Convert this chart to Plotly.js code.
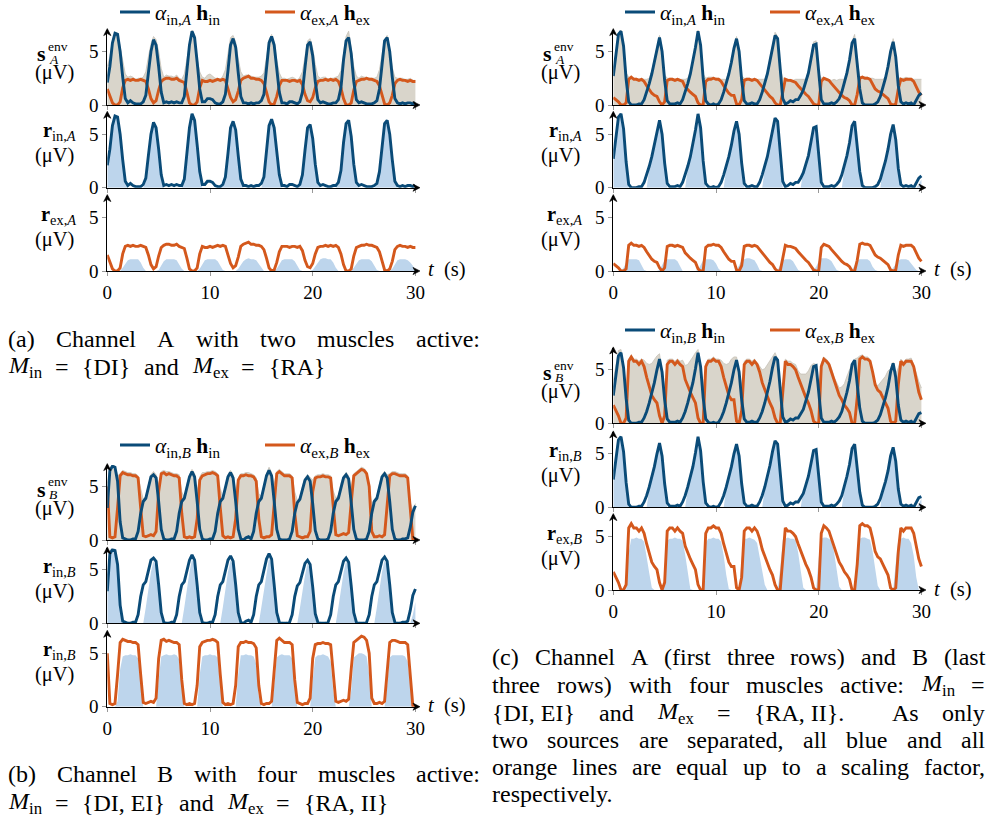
<!DOCTYPE html>
<html>
<head>
<meta charset="utf-8">
<script src="https://cdn.plot.ly/plotly-3.0.1.min.js"></script>
<style>html,body{margin:0;padding:0;background:#fff;}#chart{width:990px;height:821px;}</style>
</head>
<body>
<div id="chart"></div>
<script>
// ---------------- DATA ----------------
const t = [
0,0.25,0.5,0.75, 1,1.25,1.5,1.75, 2,2.25,2.5,2.75, 3,3.25,3.5,3.75, 4,4.25,4.5,4.75,
5,5.25,5.5,5.75, 6,6.25,6.5,6.75, 7,7.25,7.5,7.75, 8,8.25,8.5,8.75, 9,9.25,9.5,9.75,
10,10.25,10.5,10.75, 11,11.25,11.5,11.75, 12,12.25,12.5,12.75, 13,13.25,13.5,13.75, 14,14.25,14.5,14.75,
15,15.25,15.5,15.75, 16,16.25,16.5,16.75, 17,17.25,17.5,17.75, 18,18.25,18.5,18.75, 19,19.25,19.5,19.75,
20,20.25,20.5,20.75, 21,21.25,21.5,21.75, 22,22.25,22.5,22.75, 23,23.25,23.5,23.75, 24,24.25,24.5,24.75,
25,25.25,25.5,25.75, 26,26.25,26.5,26.75, 27,27.25,27.5,27.75, 28,28.25,28.5,28.75, 29,29.25,29.5,29.75,
30];
const xTicks = [0, 10, 20, 30];
const yTicks = [0, 5];

// (a) channel A, two muscles
const aIn = [
2.1,3.6,5.8,6.7, 6.6,5.0,2.6,0.6, 0.2,0.4,0.2,0.1, 0.1,0.1,0.3,0.9, 3.0,5.0,6.1,5.6,
3.6,1.2,0.2,0.3, 0.2,0.3,0.2,0.3, 0.2,0.2,0.8,3.0, 5.6,6.9,6.3,4.0, 1.5,0.3,0.3,0.6,
0.6,0.5,0.2,0.1, 0.1,0.3,1.0,3.2, 5.6,6.2,5.4,3.0, 0.8,0.2,0.2,0.1, 0.2,0.1,0.2,0.2,
0.4,1.0,3.2,5.8, 6.4,5.6,3.4,1.2, 0.2,0.2,0.1,0.3, 0.3,0.2,0.1,0.3, 1.2,3.5,5.6,5.9,
4.6,2.2,0.5,0.2, 0.3,0.2,0.1,0.1, 0.2,0.2,0.5,1.6, 4.2,6.0,6.3,4.8, 2.2,0.5,0.2,0.3,
0.2,0.1,0.1,0.1, 0.2,0.4,1.5,3.8, 6.0,6.3,5.0,2.6, 0.6,0.2,0.1,0.2, 0.1,0.2,0.2,0.1,
0.2];
const aEx = [
1.5,0.9,0.2,0.0, 0.0,0.3,1.6,2.3, 2.4,2.3,2.4,2.3, 2.3,2.4,2.3,2.2, 1.5,0.6,0.2,0.4,
1.4,2.2,2.4,2.5, 2.5,2.4,2.4,2.5, 2.3,2.2,2.1,1.2, 0.2,0.0,0.0,0.3, 1.6,2.3,2.2,2.2,
2.3,2.2,2.3,2.4, 2.3,2.4,2.3,1.6, 0.7,0.3,0.5,1.3, 2.3,2.5,2.6,2.7, 2.5,2.5,2.4,2.4,
2.3,2.0,1.2,0.3, 0.0,0.1,0.8,1.8, 2.3,2.3,2.3,2.2, 2.3,2.3,2.2,2.3, 1.9,1.0,0.4,0.3,
0.7,1.6,2.2,2.3, 2.3,2.4,2.3,2.4, 2.3,2.4,2.2,1.6, 0.6,0.0,0.0,0.2, 1.4,2.2,2.3,2.4,
2.4,2.5,2.4,2.4, 2.3,2.2,1.8,0.9, 0.1,0.0,0.2,0.9, 2.0,2.3,2.4,2.3, 2.3,2.2,2.3,2.2,
2.2];
const aEnv = [
3.6,4.5,6.0,6.8, 6.7,5.4,4.3,2.9, 2.6,2.7,2.6,2.4, 2.5,2.5,2.6,3.1, 4.5,5.7,6.4,6.1,
5.0,3.4,2.6,2.8, 2.7,2.7,2.6,2.8, 2.5,2.4,2.9,4.2, 5.8,7.0,6.5,4.3, 3.1,2.6,2.5,2.8,
2.9,2.7,2.5,2.5, 2.4,2.7,3.3,4.8, 6.3,6.5,5.9,4.3, 3.1,2.7,2.8,2.8, 2.7,2.6,2.6,2.6,
2.7,3.0,4.4,6.1, 6.6,5.8,4.2,3.0, 2.5,2.5,2.4,2.5, 2.6,2.5,2.3,2.6, 3.1,4.5,6.0,6.2,
5.3,3.8,2.7,2.5, 2.6,2.6,2.4,2.5, 2.5,2.6,2.7,3.2, 4.8,6.4,6.9,5.1, 3.6,2.7,2.5,2.7,
2.6,2.6,2.5,2.5, 2.5,2.6,3.3,4.7, 6.1,6.5,5.2,3.5, 2.6,2.5,2.5,2.5, 2.4,2.4,2.5,2.3,
2.3];
const aGtIn = [
2.0,3.5,5.7,6.6, 6.5,4.8,2.3,0.4, 0,0,0,0, 0,0,0,0.6, 2.8,4.9,6.0,5.4,
3.3,0.9,0,0, 0,0,0,0, 0,0,0.6,2.8, 5.5,6.8,6.1,3.7, 1.2,0,0,0,
0,0,0,0, 0,0.1,0.8,3.0, 5.4,6.0,5.2,2.7, 0.5,0,0,0, 0,0,0,0,
0,0.8,3.0,5.6, 6.2,5.4,3.1,0.9, 0,0,0,0, 0,0,0,0.1, 1.0,3.3,5.4,5.7,
4.4,1.9,0.3,0, 0,0,0,0, 0,0,0.3,1.4, 4.0,5.8,6.1,4.6, 2.0,0.3,0,0,
0,0,0,0, 0,0.2,1.3,3.6, 5.8,6.1,4.8,2.4, 0.4,0,0,0, 0,0,0,0,
0];
const aGtEx = [
0,0,0,0, 0,0,0.3,0.7, 1.0,1.1,1.1,1.1, 1.1,0.8,0.3,0, 0,0,0,0,
0.1,0.5,0.9,1.1, 1.1,1.1,1.1,1.0, 0.6,0.2,0,0, 0,0,0,0, 0.2,0.6,1.0,1.1,
1.1,1.1,1.1,0.9, 0.5,0.1,0,0, 0,0,0,0.2, 0.6,0.9,1.1,1.2, 1.1,1.1,1.0,0.7,
0.3,0,0,0, 0,0,0.2,0.6, 1.0,1.1,1.1,1.1, 1.1,0.9,0.5,0.1, 0,0,0,0,
0.1,0.4,0.8,1.1, 1.2,1.2,1.1,1.1, 0.8,0.3,0,0, 0,0,0,0, 0.3,0.7,1.0,1.1,
1.1,1.1,1.1,0.9, 0.5,0.1,0,0, 0,0,0,0.2, 0.6,1.0,1.1,1.1, 1.1,1.0,0.8,0.5,
0.1];

// (b) channel B, four muscles
const bIn = [
3.0,6.5,6.9,6.8, 5.5,1.7,0.2,0.1, 0.0,0.0,0.1,0.1, 0.8,2.5,3.6,3.9, 5.0,5.9,6.1,5.8,
3.6,1.0,0.1,0.0, 0.0,0.1,0.1,0.8, 2.5,3.6,3.9,5.0, 5.9,6.4,5.9,3.6, 1.0,0.1,0.0,0.0,
0.1,0.1,0.8,2.5, 3.6,3.9,5.0,5.9, 6.3,5.8,3.6,1.0, 0.1,0.0,0.2,0.3, 0.1,0.8,2.5,3.6,
3.9,5.0,6.0,6.5, 6.0,3.6,1.0,0.1, 0.0,0.0,0.0,0.1, 0.8,2.5,3.5,3.8, 4.8,5.6,5.9,5.5,
3.4,0.9,0.1,0.0, 0.0,0.0,0.1,0.8, 2.5,3.6,3.9,5.0, 5.8,6.1,5.7,3.5, 1.0,0.1,0.0,0.0,
0.0,0.1,0.8,2.5, 3.6,3.9,5.0,5.9, 6.2,5.8,3.6,1.0, 0.1,0.0,0.0,0.1, 0.1,0.2,1.2,2.6,
3.2];
const bEx = [
5.0,0.3,0.2,0.3, 3.0,6.0,6.3,6.2, 6.1,6.1,6.0,6.0, 5.8,3.0,0.4,0.3, 0.4,0.5,0.4,0.8,
4.5,6.2,6.3,6.1, 6.2,6.1,6.0,6.0, 5.8,2.5,0.3,0.2, 0.3,0.2,0.3,2.0, 5.6,6.0,6.1,6.2,
6.2,6.3,6.2,6.0, 3.0,0.4,0.2,0.3, 0.2,0.3,2.0,5.6, 6.0,6.0,6.1,6.0, 6.0,5.9,5.5,2.0,
0.3,0.2,0.3,0.3, 0.5,3.5,6.2,6.4, 6.2,6.0,6.0,6.0, 5.8,2.5,0.4,0.3, 0.2,0.3,0.3,0.8,
4.5,5.8,5.9,5.9, 6.0,5.9,5.9,5.8, 3.0,0.5,0.4,0.5, 0.6,0.5,0.7,3.5, 6.0,6.2,6.4,6.6,
6.5,6.2,5.0,0.8, 0.3,0.3,0.4,0.3, 0.5,3.5,6.0,6.2, 6.2,6.1,6.0,6.0, 6.0,5.8,3.0,0.1,
0.0];
const bEnv = [
5.3,6.7,7.0,6.9, 6.0,6.2,6.5,6.4, 6.3,6.3,6.2,6.2, 6.0,4.8,3.8,4.1, 5.2,6.1,6.4,6.1,
5.2,6.4,6.5,6.4, 6.4,6.3,6.2,6.2, 6.1,4.5,4.0,5.2, 6.1,6.6,6.2,4.6, 5.9,6.3,6.3,6.4,
6.4,6.5,6.4,6.2, 4.8,4.0,5.1,6.1, 6.5,6.1,4.5,5.8, 6.2,6.2,6.3,6.3, 6.2,6.1,5.8,4.3,
4.1,5.2,6.2,6.8, 6.3,5.2,6.4,6.6, 6.4,6.2,6.2,6.2, 6.0,4.5,3.7,4.0, 5.0,5.8,6.1,5.8,
5.6,6.0,6.1,6.1, 6.2,6.1,6.1,6.0, 4.6,3.9,4.2,5.3, 6.0,6.3,6.0,4.9, 6.2,6.4,6.6,6.8,
6.7,6.4,5.0,3.4, 3.8,4.1,5.2,6.1, 6.4,6.1,6.2,6.4, 6.4,6.3,6.2,6.2, 6.2,6.0,3.5,2.8,
3.4];
const bGtIn = [
2.8,6.3,6.7,6.5, 5.2,1.5,0,0, 0,0,0,0, 0,0,0,1.5, 3.2,4.8,5.8,5.2,
3.0,0.5,0,0, 0,0,0,0, 0,0,1.5,3.2, 4.8,6.0,5.4,3.0, 0.5,0,0,0,
0,0,0,0, 0,1.5,3.2,4.8, 5.9,5.3,3.0,0.5, 0,0,0,0, 0,0,0,0,
1.5,3.2,4.9,6.1, 5.5,3.0,0.5,0, 0,0,0,0, 0,0,0,1.4, 3.0,4.5,5.6,5.0,
2.8,0.4,0,0, 0,0,0,0, 0,0,1.5,3.2, 4.7,5.8,5.2,3.0, 0.5,0,0,0,
0,0,0,0, 0,1.5,3.2,4.8, 5.9,5.3,3.0,0.5, 0,0,0,0, 0,0,0,0.8,
2.0];
const bGtEx = [
0,0,0,0, 0.5,3.5,4.7,4.8, 4.8,4.9,4.8,4.8, 4.5,2.0,0,0, 0,0,0,0,
2.5,4.7,4.8,4.9, 4.8,4.8,4.9,4.8, 4.4,1.8,0,0, 0,0,0,0, 3.0,4.7,4.8,4.8,
4.9,4.8,4.8,4.6, 2.0,0,0,0, 0,0,0,3.0, 4.8,4.8,4.9,4.8, 4.8,4.7,4.0,1.0,
0,0,0,0, 0,2.0,4.6,4.8, 4.9,4.8,4.8,4.8, 4.5,1.8,0,0, 0,0,0,0,
2.5,4.6,4.8,4.8, 4.9,4.8,4.7,4.2, 1.5,0,0,0, 0,0,0,1.5, 4.6,4.8,5.0,5.0,
4.9,4.7,3.0,0, 0,0,0,0, 0,2.0,4.6,4.8, 4.8,4.8,4.8,4.8, 4.7,4.2,2.0,0,
0];

// (c) channels A and B, four muscles
const cInA = [
2.7,4.6,6.6,6.9, 5.5,2.4,0.3,0.0, 0.0,0.0,0.1,0.1, 0.5,1.2,2.0,2.9, 4.0,5.3,6.3,5.0,
2.3,0.4,0.1,0.1, 0.1,0.2,0.1,0.5, 1.2,2.0,2.9,4.0, 5.4,6.9,5.6,2.5, 0.4,0.1,0.0,0.1,
0.0,0.1,0.5,1.2, 2.0,2.9,4.0,5.3, 6.2,5.0,2.3,0.4, 0.1,0.1,0.2,0.1, 0.1,0.5,1.2,2.0,
2.9,4.1,5.5,6.5, 6.2,3.2,0.6,0.1, 0.2,0.4,0.3,0.5, 0.5,0.9,1.4,2.2, 3.0,4.3,5.6,5.7,
2.8,0.5,0.1,0.1, 0.1,0.2,0.1,0.3, 0.6,1.2,2.0,3.0, 4.2,5.8,6.2,4.0, 1.5,0.2,0.0,0.0,
0.0,0.0,0.1,0.3, 0.8,1.6,2.5,3.6, 5.0,5.9,4.5,1.8, 0.3,0.1,0.2,0.1, 0.2,0.0,0.4,0.9,
1.1];
const cExA = [
0.7,0.5,0.3,0.0, 0.0,0.2,2.4,2.6, 2.4,2.4,2.3,2.4, 2.2,1.8,1.4,1.1, 0.9,0.8,0.3,0.0,
0.3,2.3,2.4,2.4, 2.3,2.4,2.3,2.2, 1.7,1.4,1.2,1.0, 0.8,0.2,0.0,0.0, 2.2,2.4,2.4,2.5,
2.4,2.4,2.2,1.8, 1.4,1.1,0.9,0.9, 0.1,0.0,0.5,2.3, 2.4,2.4,2.3,2.4, 2.3,2.0,1.6,1.3,
1.1,0.8,0.6,0.2, 0.0,0.0,1.2,2.4, 2.3,2.3,2.2,2.1, 1.8,1.5,1.3,1.0, 0.8,0.5,0.1,0.0,
0.0,2.2,2.5,2.4, 2.3,2.0,1.7,1.4, 1.1,0.9,0.7,0.6, 0.4,0.0,0.0,1.0, 2.5,2.6,2.5,2.5,
2.4,2.0,1.5,1.3, 1.2,1.0,0.8,0.6, 0.1,0.0,0.1,1.5, 2.4,2.3,2.4,2.4, 2.4,2.2,1.7,1.2,
0.9];
const cEnvA = [
3.0,4.8,6.7,7.0, 5.8,3.0,2.6,2.6, 2.5,2.5,2.4,2.5, 2.4,2.4,2.5,3.2, 4.2,5.5,6.5,5.2,
2.8,2.5,2.5,2.5, 2.4,2.5,2.4,2.4, 2.4,2.5,3.1,4.2, 5.6,7.0,5.8,2.9, 2.5,2.6,2.6,2.6,
2.5,2.5,2.4,2.4, 2.4,3.1,4.2,5.5, 6.4,5.2,2.7,2.5, 2.5,2.5,2.4,2.5, 2.4,2.4,2.4,2.4,
3.1,4.3,5.7,6.8, 6.4,3.5,2.5,2.5, 2.4,2.4,2.3,2.4, 2.4,2.4,2.4,2.4, 3.2,4.5,5.9,6.0,
3.0,2.5,2.6,2.5, 2.4,2.3,2.4,2.3, 2.4,2.4,2.4,3.2, 4.4,6.0,6.6,4.2, 2.6,2.7,2.6,2.6,
2.5,2.5,2.4,2.4, 2.4,2.4,2.6,3.8, 5.2,6.2,4.7,2.5, 2.5,2.5,2.6,2.5, 2.5,2.4,2.4,2.4,
2.4];
const cGtInA = [
2.5,4.4,6.4,6.7, 5.3,2.2,0,0, 0,0,0,0, 0,0,1.8,2.8, 3.9,5.1,6.1,4.8,
2.0,0,0,0, 0,0,0,0, 0,1.8,2.8,3.9, 5.2,6.6,5.3,2.2, 0,0,0,0,
0,0,0,0, 1.8,2.8,3.9,5.1, 6.0,4.8,2.0,0, 0,0,0,0, 0,0,0,1.8,
2.8,3.9,5.2,6.3, 5.9,2.8,0,0, 0,0,0,0, 0,0,1.6,2.2, 3.0,4.2,5.5,5.4,
2.5,0,0,0, 0,0,0,0, 0,0,1.8,2.8, 4.0,5.6,6.0,3.8, 1.2,0,0,0,
0,0,0,0, 0,1.8,2.6,3.5, 4.8,5.7,4.3,1.6, 0,0,0,0, 0,0,0,0.3,
0.8];
const cGtExA = [
0,0,0,0, 0.3,0.8,1.1,1.1, 1.1,1.1,1.0,0.6, 0.1,0,0,0, 0,0,0.1,0.5,
1.0,1.1,1.1,1.1, 1.1,0.9,0.4,0, 0,0,0,0, 0,0.1,0.5,1.0, 1.1,1.1,1.1,1.0,
0.7,0.2,0,0, 0,0,0,0, 0.1,0.5,1.0,1.1, 1.2,1.2,1.1,1.0, 0.6,0.1,0,0,
0,0,0,0, 0.1,0.6,1.0,1.1, 1.1,1.1,0.9,0.5, 0.1,0,0,0, 0,0,0.1,0.4,
0.9,1.2,1.2,1.2, 1.1,0.9,0.5,0.1, 0,0,0,0, 0,0.1,0.5,1.0, 1.1,1.1,1.1,1.1,
0.9,0.4,0.1,0, 0,0,0,0, 0,0.3,0.7,1.0, 1.1,1.1,1.1,1.0, 0.7,0.3,0.1,0,
0];
const cInB = [
2.6,4.4,6.3,6.6, 5.2,2.3,0.3,0.0, 0.0,0.0,0.1,0.1, 0.5,1.1,1.9,2.8, 3.8,5.0,6.0,4.8,
2.2,0.4,0.1,0.1, 0.1,0.2,0.1,0.5, 1.1,1.9,2.8,3.8, 5.1,6.6,5.3,2.4, 0.4,0.1,0.0,0.1,
0.0,0.1,0.5,1.1, 1.9,2.8,3.8,5.0, 5.9,4.8,2.2,0.4, 0.1,0.1,0.2,0.1, 0.1,0.5,1.1,1.9,
2.8,3.9,5.2,6.2, 5.9,3.0,0.6,0.1, 0.2,0.4,0.3,0.5, 0.5,0.9,1.3,2.1, 2.9,4.1,5.3,5.4,
2.7,0.5,0.1,0.1, 0.1,0.2,0.1,0.3, 0.6,1.1,1.9,2.9, 4.0,5.5,5.9,3.8, 1.4,0.2,0.0,0.0,
0.0,0.0,0.1,0.3, 0.8,1.5,2.4,3.4, 4.8,5.6,4.3,1.7, 0.3,0.1,0.2,0.1, 0.2,0.0,0.4,0.9,
1.0];
const cExB = [
1.7,1.2,0.7,0.0, 0.0,0.5,5.8,6.2, 5.8,5.8,5.5,5.8, 5.3,4.3,3.4,2.6, 2.2,1.9,0.7,0.0,
0.7,5.5,5.8,5.8, 5.5,5.8,5.5,5.3, 4.1,3.4,2.9,2.4, 1.9,0.5,0.0,0.0, 5.3,5.8,5.8,6.0,
5.8,5.8,5.3,4.3, 3.4,2.6,2.2,2.2, 0.2,0.0,1.2,5.5, 5.8,5.8,5.5,5.8, 5.5,4.8,3.8,3.1,
2.6,1.9,1.4,0.5, 0.0,0.0,2.9,5.8, 5.5,5.5,5.3,5.0, 4.3,3.6,3.1,2.4, 1.9,1.2,0.2,0.0,
0.0,5.3,6.0,5.8, 5.5,4.8,4.1,3.4, 2.6,2.2,1.7,1.4, 1.0,0.0,0.0,2.4, 6.0,6.2,6.0,6.0,
5.8,4.8,3.6,3.1, 2.9,2.4,1.9,1.4, 0.2,0.0,0.2,3.6, 5.8,5.5,5.8,5.8, 5.8,5.3,4.1,2.9,
2.2];
const cEnvB = [
4.0,5.4,6.8,6.9, 5.4,2.9,6.0,6.4, 6.0,6.0,5.8,6.0, 5.9,5.6,5.5,5.6, 6.0,6.3,6.5,4.9,
3.0,5.9,6.0,6.0, 5.8,6.0,5.8,5.9, 5.4,5.5,5.8,6.2, 6.6,6.9,5.4,2.6, 5.6,6.0,6.0,6.2,
6.0,6.0,5.9,5.6, 5.5,5.6,6.0,6.2, 6.2,4.9,3.5,5.8, 6.0,6.0,5.8,6.0, 5.7,5.4,5.0,5.1,
5.5,5.9,6.3,6.6, 6.0,3.2,3.5,6.0, 5.8,5.8,5.6,5.5, 4.9,4.6,4.6,4.6, 4.9,5.4,5.6,5.5,
2.9,5.6,6.2,6.0, 5.7,5.1,4.3,3.8, 3.3,3.4,3.7,4.4, 5.1,5.6,6.0,6.1, 6.3,6.4,6.2,6.2,
6.0,5.0,3.8,3.5, 3.8,4.0,4.4,4.9, 5.1,5.7,4.6,5.2, 6.0,5.7,6.0,6.0, 6.1,5.5,4.6,3.9,
3.3];
const cGtInB = [
2.4,4.2,6.1,6.4, 5.0,2.1,0,0, 0,0,0,0, 0,0,1.7,2.7, 3.7,4.8,5.8,4.6,
1.9,0,0,0, 0,0,0,0, 0,1.7,2.7,3.7, 4.9,6.3,5.0,2.1, 0,0,0,0,
0,0,0,0, 1.7,2.7,3.7,4.8, 5.7,4.6,1.9,0, 0,0,0,0, 0,0,0,1.7,
2.7,3.7,4.9,6.0, 5.6,2.7,0,0, 0,0,0,0, 0,0,1.5,2.1, 2.9,4.0,5.2,5.1,
2.4,0,0,0, 0,0,0,0, 0,0,1.7,2.7, 3.8,5.3,5.7,3.6, 1.1,0,0,0,
0,0,0,0, 0,1.7,2.5,3.3, 4.6,5.4,4.1,1.5, 0,0,0,0, 0,0,0,0.3,
0.8];
const cGtExB = [
0,0,0,0, 0,0,3.5,4.8, 4.8,4.9,4.8,4.8, 4.5,3.2,1.6,0.2, 0,0,0,0,
0.5,4.6,4.8,4.8, 4.9,4.8,4.8,4.6, 3.3,1.5,0.1,0, 0,0,0,0, 4.4,4.8,4.8,4.9,
4.8,4.8,4.5,3.2, 1.4,0.1,0,0, 0,0,3.0,4.8, 4.8,4.9,4.8,4.7, 4.4,3.2,1.8,0.5,
0,0,0,0, 0,2.0,4.7,4.8, 4.9,4.8,4.8,4.7, 3.5,1.8,0.2,0, 0,0,0,0,
3.0,4.8,4.9,4.9, 4.8,4.6,3.5,2.0, 0.3,0,0,0, 0,0,0,3.0, 4.8,4.9,4.9,4.8,
4.7,3.6,1.9,0.4, 0,0,0,0, 0,0,2.5,4.7, 4.8,4.9,4.8,4.8, 4.4,3.2,1.2,0,
0];

// ---------------- FONT ----------------
const mctx = document.createElement('canvas').getContext('2d');
function hasFont(name){
  const s = 'abcdefghijklmnopqrstuvwxyzABCDEFGHIJ0123456789';
  let diff = false;
  ['monospace','sans-serif'].forEach(g => {
    mctx.font = '40px ' + g; const a = mctx.measureText(s).width;
    mctx.font = '40px "' + name + '", ' + g; const b = mctx.measureText(s).width;
    if (Math.abs(a - b) > 0.5) diff = true;
  });
  return diff;
}
let FONT, S;
if (hasFont('Liberation Serif')) { FONT = '"Liberation Serif", serif'; S = 1.0; }
else if (hasFont('DejaVu Serif')) { FONT = '"DejaVu Serif", serif'; S = 0.86; }
else { FONT = 'serif'; S = 0.95; }
function fs(n){ return Math.round(n * S * 10) / 10; }

// ---------------- STYLE / LAYOUT ----------------
const W = 990, H = 821;
const PXS = 10.27, PXV = 10.7, XMAX = 30.3, YMAX = 7;
const BLUE = '#0a4b78', ORANGE = '#d4581c', GRAYF = '#d9d5cb', GRAYL = '#c6c2b8', LBLUE = '#bdd5ec';

const origins = [
  [107.3,105],[107.3,187.7],[107.3,271],
  [107.3,540],[107.3,623.3],[107.3,706.7],
  [613.3,105],[613.3,187.7],[613.3,271],
  [613.3,423.3],[613.3,507.3],[613.3,590]
];
const bottomRows = [3,6,9,12];

function xid(k){ return k===1 ? 'x' : 'x'+k; }
function yid(k){ return k===1 ? 'y' : 'y'+k; }
function px(x){ return x/W; }
function py(y){ return 1 - y/H; }

const traces = [];
function fillTr(k, y, color, edge){
  traces.push({type:'scatter', mode:'lines', x:t, y:y, xaxis:xid(k), yaxis:yid(k),
    fill:'tozeroy', fillcolor:color, line:{width: edge?0.8:0, color: edge||color},
    hoverinfo:'skip', showlegend:false});
}
function lineTr(k, y, color, name, legend, rank){
  const tr = {type:'scatter', mode:'lines', x:t, y:y, xaxis:xid(k), yaxis:yid(k),
    line:{width:2.9, color:color}, hoverinfo:'skip', showlegend:false};
  if (name){ tr.name = name; tr.showlegend = true; tr.legend = legend; tr.legendrank = rank; }
  traces.push(tr);
}
function lg(dir, ch){
  return '<i>α</i><sub>'+dir+',<i>'+ch+'</i></sub> <b>h</b><sub>'+dir+'</sub>';
}

fillTr(1, aEnv, GRAYF, GRAYL); lineTr(1, aEx, ORANGE, lg('ex','A'), 'legend', 2); lineTr(1, aIn, BLUE, lg('in','A'), 'legend', 1);
fillTr(2, aGtIn, LBLUE); lineTr(2, aIn, BLUE);
fillTr(3, aGtEx, LBLUE); lineTr(3, aEx, ORANGE);
fillTr(4, bEnv, GRAYF, GRAYL); lineTr(4, bEx, ORANGE, lg('ex','B'), 'legend2', 2); lineTr(4, bIn, BLUE, lg('in','B'), 'legend2', 1);
fillTr(5, bGtIn, LBLUE); lineTr(5, bIn, BLUE);
fillTr(6, bGtEx, LBLUE); lineTr(6, bEx, ORANGE);
fillTr(7, cEnvA, GRAYF, GRAYL); lineTr(7, cExA, ORANGE, lg('ex','A'), 'legend3', 2); lineTr(7, cInA, BLUE, lg('in','A'), 'legend3', 1);
fillTr(8, cGtInA, LBLUE); lineTr(8, cInA, BLUE);
fillTr(9, cGtExA, LBLUE); lineTr(9, cExA, ORANGE);
fillTr(10, cEnvB, GRAYF, GRAYL); lineTr(10, cExB, ORANGE, lg('ex','B'), 'legend4', 2); lineTr(10, cInB, BLUE, lg('in','B'), 'legend4', 1);
fillTr(11, cGtInB, LBLUE); lineTr(11, cInB, BLUE);
fillTr(12, cGtExB, LBLUE); lineTr(12, cExB, ORANGE);

const layout = {
  width: W, height: H, autosize: false,
  margin: {l:0, r:0, t:0, b:0, pad:0, autoexpand:false},
  paper_bgcolor: '#fff', plot_bgcolor: 'rgba(0,0,0,0)',
  font: {family: FONT, color: '#000', size: fs(18)},
  showlegend: true,
  annotations: [], shapes: []
};
const legendBase = {orientation:'h', xanchor:'center', yanchor:'middle', bgcolor:'rgba(0,0,0,0)',
  borderwidth:0, font:{family:FONT, size:fs(21.5), color:'#000'}, itemwidth:30, traceorder:'normal',
  entrywidth:100, entrywidthmode:'pixels'};
layout.legend  = Object.assign({}, legendBase, {x: px(260), y: py(12)});
layout.legend2 = Object.assign({}, legendBase, {x: px(260), y: py(445)});
layout.legend3 = Object.assign({}, legendBase, {x: px(765), y: py(12)});
layout.legend4 = Object.assign({}, legendBase, {x: px(765), y: py(330)});

function P(x, y){ return px(x).toFixed(5) + ',' + py(y).toFixed(5); }
origins.forEach(([x0, y0], i) => {
  const k = i + 1;
  const xk = k===1 ? 'xaxis' : 'xaxis'+k;
  const yk = k===1 ? 'yaxis' : 'yaxis'+k;
  const xEnd = x0 + XMAX*PXS, yTop = y0 - YMAX*PXV;
  layout[xk] = {
    domain: [px(x0), px(xEnd)], range: [0, XMAX], anchor: yid(k),
    showline: true, linecolor: '#000', linewidth: 1, zeroline: false, showgrid: false,
    ticks: 'outside', ticklen: 4, tickwidth: 1, tickcolor: '#999',
    tickvals: xTicks, ticktext: xTicks.map(String),
    showticklabels: bottomRows.includes(k), tickfont: {family: FONT, size: fs(19), color:'#000'},
    fixedrange: true, automargin: false
  };
  layout[yk] = {
    domain: [py(y0), py(yTop)], range: [0, YMAX], anchor: xid(k),
    showline: true, linecolor: '#000', linewidth: 1, zeroline: false, showgrid: false,
    ticks: 'outside', ticklen: 4, tickwidth: 1, tickcolor: '#999',
    tickvals: yTicks, ticktext: yTicks.map(String),
    tickfont: {family: FONT, size: fs(19), color:'#000'}, fixedrange: true, automargin: false
  };
  layout.shapes.push({type:'path', xref:'paper', yref:'paper', layer:'above',
    path:'M'+P(x0, yTop-1.5)+' L'+P(x0-3.6, yTop+5.5)+' L'+P(x0, yTop+3.5)+' L'+P(x0+3.6, yTop+5.5)+' Z',
    fillcolor:'#000', line:{width:0.6, color:'#000'}});
  layout.shapes.push({type:'path', xref:'paper', yref:'paper', layer:'above',
    path:'M'+P(xEnd+1.5, y0)+' L'+P(xEnd-5.5, y0-3.6)+' L'+P(xEnd-3.5, y0)+' L'+P(xEnd-5.5, y0+3.6)+' Z',
    fillcolor:'#000', line:{width:0.6, color:'#000'}});
});

// row labels
const rowLabels = [
  ['s','env','A'],['r','in','A'],['r','ex','A'],
  ['s','env','B'],['r','in','B'],['r','in','B'],
  ['s','env','A'],['r','in','A'],['r','ex','A'],
  ['s','env','B'],['r','in','B'],['r','ex','B']
];
function ann(o){ layout.annotations.push(Object.assign({xref:'paper', yref:'paper', showarrow:false,
  borderpad:0, borderwidth:0, font:{family:FONT, size:fs(21), color:'#000'}}, o)); }
rowLabels.forEach(([v, sub, ch], i) => {
  const [x0, y0] = origins[i];
  if (v === 's'){
    ann({text:'<b>s</b>', x:px(x0-66), y:py(y0-51), xanchor:'center', yanchor:'middle', font:{family:FONT,size:fs(22),color:'#000'}});
    ann({text:'env', x:px(x0-59.5), y:py(y0-58), xanchor:'left', yanchor:'middle', font:{family:FONT,size:fs(13.5),color:'#000'}});
    ann({text:'<i>'+ch+'</i>', x:px(x0-58.5), y:py(y0-46), xanchor:'left', yanchor:'middle', font:{family:FONT,size:fs(13.5),color:'#000'}});
    ann({text:'(μV)', x:px(x0-53), y:py(y0-43.5), xanchor:'center', yanchor:'top', font:{family:FONT,size:fs(20.5),color:'#000'}});
  } else {
    ann({text:'<b>r</b><sub>'+sub+',<i>'+ch+'</i></sub>', x:px(x0-31), y:py(y0-43.5), xanchor:'right', yanchor:'bottom', font:{family:FONT,size:fs(20.5),color:'#000'}});
    ann({text:'(μV)', x:px(x0-53), y:py(y0-43.5), xanchor:'center', yanchor:'top', font:{family:FONT,size:fs(20.5),color:'#000'}});
  }
});
[[428,270],[428,705],[934,270],[934,589]].forEach(([x,y]) =>
  ann({text:'<i>t</i>  (s)', x:px(x), y:py(y), xanchor:'left', yanchor:'middle', font:{family:FONT,size:fs(20.5),color:'#000'}}));

// captions (justified text, widths measured with the same font)
function measure(html, size){
  let w = 0, b = 0, it = 0, s = 0;
  html.split(/(<\/?[a-z]+>)/).forEach(p => {
    if (!p) return;
    const m = p.match(/^<(\/?)([a-z]+)>$/);
    if (m){ const d = m[1] ? -1 : 1;
      if (m[2]==='b') b += d; else if (m[2]==='i') it += d; else s += d; return; }
    const f = size * Math.pow(0.7, s);
    mctx.font = (it>0?'italic ':'') + (b>0?'bold ':'') + f + 'px ' + FONT;
    w += mctx.measureText(p).width;
  });
  return w;
}
const Min = '<i>M</i><sub>in</sub>', Mex = '<i>M</i><sub>ex</sub>';
const captionLines = [
  [['(a)','Channel','A','with','two','muscles','active:'], 8, 480, 339],
  [[Min,'=','{DI}','and',Mex,'=','{RA}'], 8, 325, 367],
  [['(b)','Channel','B','with','four','muscles','active:'], 8, 480, 774],
  [[Min,'=','{DI, EI}','and',Mex,'=','{RA, II}'], 8, 388, 803],
  [['(c)','Channel','A','(first','three','rows)','and','B','(last'], 492, 985, 657],
  [['three','rows)','with','four','muscles','active:',Min,'='], 492, 985, 685],
  [['{DI, EI}','and',Mex,'=','{RA, II}.','','As','only'], 492, 985, 713],
  [['two','sources','are','separated,','all','blue','and','all'], 492, 985, 740],
  [['orange','lines','are','equal','up','to','a','scaling','factor,'], 492, 985, 767],
  [['respectively.'], 492, 985, 794]
];
let CAP = fs(24);
captionLines.forEach(([words, x0, x1]) => {
  if (words.length < 2) return;
  const tot = words.reduce((a,w)=>a+(w?measure(w,CAP):0),0) + (words.length-1)*0.28*CAP;
  if (tot > x1 - x0) CAP = CAP * (x1 - x0) / tot;
});
captionLines.forEach(([words, x0, x1, y]) => {
  const ws = words.map(w => w ? measure(w, CAP) : 0);
  const total = ws.reduce((a,b)=>a+b, 0);
  const gap = words.length > 1 ? (x1 - x0 - total) / (words.length - 1) : 0;
  let x = x0;
  words.forEach((w, i) => {
    if (w) ann({text:w, x:px(x), y:py(y), xanchor:'left', yanchor:'middle', font:{family:FONT,size:CAP,color:'#000'}});
    x += ws[i] + gap;
  });
});

Plotly.newPlot('chart', traces, layout, {displayModeBar:false, staticPlot:true});
</script>
</body>
</html>
